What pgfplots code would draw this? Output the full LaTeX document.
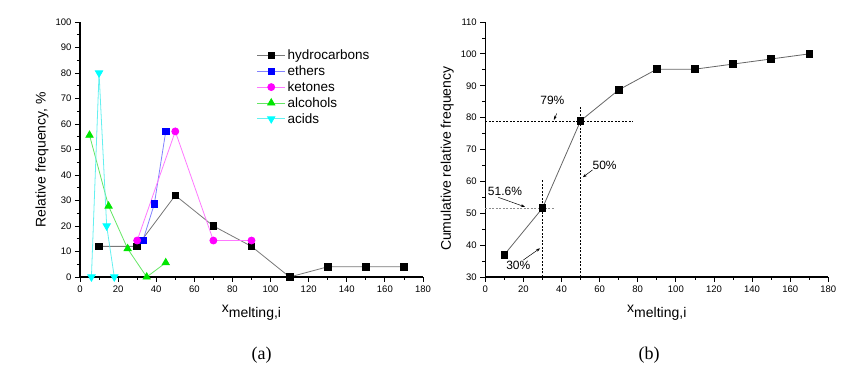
\documentclass[border=0pt]{standalone}
\usepackage{fontspec}
\setmainfont{Liberation Sans}
\newfontfamily\serifcap{Liberation Serif}
\usepackage{pgfplots}
\pgfplotsset{compat=1.18}
\usetikzlibrary{arrows.meta}

\definecolor{hcLine}{RGB}{120,120,120}
\definecolor{etLine}{RGB}{130,130,255}
\definecolor{ketMag}{RGB}{255,0,255}
\definecolor{ketLine}{RGB}{255,120,255}
\definecolor{alcGreen}{RGB}{0,230,0}
\definecolor{alcLine}{RGB}{100,230,100}
\definecolor{acidCyan}{RGB}{0,255,255}
\definecolor{acidLine}{RGB}{100,240,240}

\pgfplotsset{
  panel/.style={
    scale only axis, width=343pt, height=255pt,
    anchor=south west,
    axis lines=left, axis line style={-, line width=1.1pt},
    tick align=outside,
    major tick length=5pt, minor tick length=3pt,
    every tick/.style={black, line width=0.8pt},
    minor x tick num=1, minor y tick num=1,
    xmin=0, xmax=180, xtick={0,20,...,180},
    tick label style={font=\fontsize{9.5}{9.5}\selectfont, text=black},
    /pgf/number format/assume math mode=true,
    clip=false,
    every axis x label/.style={at={(axis description cs:0.5,0)}, anchor=center, yshift=-36pt},
    every axis y label/.style={at={(axis description cs:0,0.46)}, xshift=-38pt, rotate=90, anchor=center},
    label style={font=\fontsize{14}{14}\selectfont},
    xlabel={x\raisebox{-5pt}{melting,i}},
  },
  sq/.style={mark=square*, mark size=3.3pt, mark options={solid}},
}

\begin{document}
\begin{tikzpicture}[x=1pt,y=1pt]
\path[use as bounding box] (0,0) rectangle (857,379);

% (a) relative frequency
\begin{axis}[panel, at={(80pt,102pt)},
  ymin=0, ymax=100, ytick={0,10,...,100},
  ylabel={Relative frequency, \%},
  legend style={draw=none, fill=none, at={(0.515,0.9)}, anchor=north west,
    font=\fontsize{13.5}{13.5}\selectfont, row sep=0.6pt, inner sep=0pt},
  legend cell align=left,
  legend image code/.code={\draw[mark repeat=2, mark phase=2] plot coordinates {(0pt,0pt) (14pt,0pt) (28pt,0pt)};},
]
\addplot[hcLine, line width=0.8pt, sq, mark options={fill=black, draw=black}] coordinates
  {(10,12)(30,12)(50,32)(70,20)(90,12)(110,0)(130,4)(150,4)(170,4)};
\addlegendentry{hydrocarbons}
\addplot[etLine, line width=0.8pt, sq, mark options={fill=blue, draw=blue}] coordinates
  {(33,14.3)(39,28.6)(45,57.1)};
\addlegendentry{ethers}
\addplot[ketLine, line width=0.8pt, mark=*, mark size=3.5pt, mark options={fill=ketMag, draw=ketMag}] coordinates
  {(30,14.3)(50,57.1)(70,14.3)(90,14.3)};
\addlegendentry{ketones}
\addplot[alcLine, line width=0.8pt, mark=triangle*, mark size=4.2pt, mark options={fill=alcGreen, draw=alcGreen}] coordinates
  {(5,55.6)(15,27.8)(25,11.1)(35,0)(45,5.6)};
\addlegendentry{alcohols}
\addplot[acidLine, line width=0.8pt, mark=triangle*, mark size=4.2pt, mark options={fill=acidCyan, draw=acidCyan, rotate=180}] coordinates
  {(6,0)(10,80)(14,20)(18,0)};
\addlegendentry{acids}
\end{axis}

% (b) cumulative relative frequency
\begin{axis}[panel, at={(485.3pt,102pt)},
  ymin=30, ymax=110, ytick={30,40,...,110},
  ylabel={Cumulative relative frequency},
  every axis y label/.append style={xshift=1pt},
]
\addplot[black!60, line width=0.8pt, sq, mark options={fill=black, draw=black}] coordinates
  {(10,37)(30,51.6)(50,79)(70,88.7)(90,95.2)(110,95.2)(130,96.8)(150,98.4)(170,100)};
\draw[black, line width=0.6pt, dash pattern=on 2pt off 1.5pt] (axis cs:0,79) -- (axis cs:77.5,79);
\draw[black, line width=0.6pt, dash pattern=on 2pt off 1.5pt] (axis cs:50,30) -- (axis cs:50,83.4);
\draw[black, line width=0.6pt, dash pattern=on 2pt off 1.5pt] (axis cs:30,30) -- (axis cs:30,60.4);
\draw[black!45, line width=0.6pt, dash pattern=on 2pt off 1.5pt] (axis cs:0,51.6) -- (axis cs:36.6,51.6);
\begin{scope}[every node/.style={font=\fontsize{12}{12}\selectfont}]
\node at (axis cs:35.2,85.5) {79\%};
\node at (axis cs:62.6,64.9) {50\%};
\node at (axis cs:10.3,57) {51.6\%};
\node at (axis cs:17.3,33.5) {30\%};
\end{scope}
\begin{scope}[line width=0.5pt, -{Stealth[length=4pt, width=3pt]}]
\draw (axis cs:37.5,81.3) -- (axis cs:36,79.3);
\draw (axis cs:56.3,63.6) -- (axis cs:51.2,61.3);
\draw (axis cs:6.8,55) -- (axis cs:20.8,52);
\draw (axis cs:19.9,35.3) -- (axis cs:28.7,39);
\end{scope}
\end{axis}

\node[font=\serifcap\fontsize{18}{18}\selectfont] at (261.7,23.5) {(a)};
\node[font=\serifcap\fontsize{18}{18}\selectfont] at (649,23.5) {(b)};
\end{tikzpicture}
\end{document}
